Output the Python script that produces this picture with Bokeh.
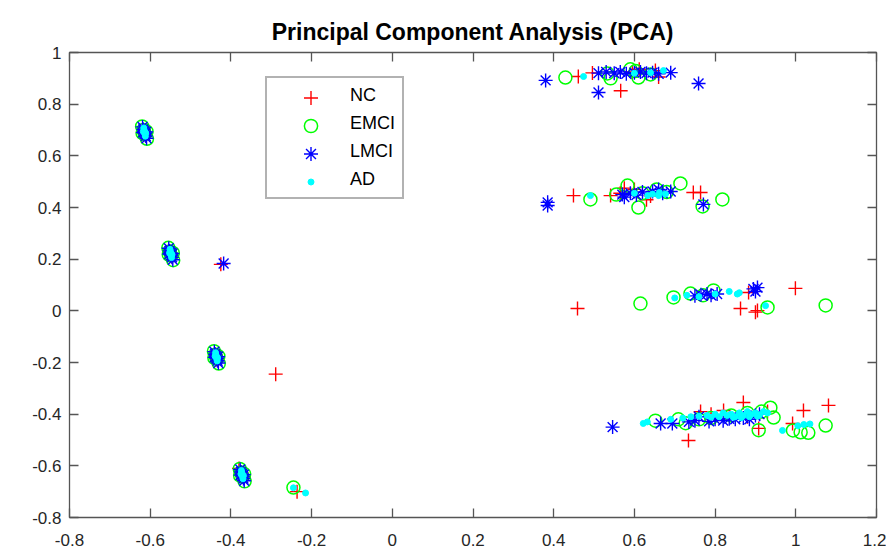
from bokeh.plotting import figure
from bokeh.models import (Range1d, FixedTicker, LinearAxis, Legend, LegendItem)
from bokeh.embed import file_html
from bokeh.resources import INLINE

# ---- PCA scores per diagnostic group (PC1, PC2) ----
nc_x = [-0.616, -0.612, -0.551, -0.547, -0.438, -0.434, -0.380, -0.374, -0.368,
        -0.425, -0.289, -0.236,
        0.461, 0.496, 0.566, 0.595, 0.612, 0.652, 0.660,
        0.449, 0.541, 0.565, 0.575, 0.600, 0.630, 0.640, 0.746, 0.764,
        0.459, 0.863, 0.883, 0.905, 0.900, 0.999,
        0.734, 0.764, 0.790, 0.821, 0.870, 0.880, 0.908, 0.930, 0.992, 1.019, 1.081]
nc_y = [0.700, 0.680, 0.230, 0.210, -0.170, -0.190, -0.610, -0.626, -0.646,
        0.180, -0.245, -0.700,
        0.907, 0.921, 0.852, 0.925, 0.935, 0.930, 0.905,
        0.446, 0.446, 0.455, 0.475, 0.470, 0.430, 0.445, 0.458, 0.458,
        0.009, 0.009, 0.071, 0.001, -0.005, 0.087,
        -0.502, -0.390, -0.400, -0.386, -0.355, -0.410, -0.455, -0.390, -0.436, -0.386, -0.366]

emci_x = [-0.620, -0.617, -0.613, -0.608, -0.619, -0.609,
          -0.555, -0.552, -0.548, -0.543, -0.554, -0.544,
          -0.442, -0.439, -0.435, -0.430, -0.441, -0.431,
          -0.378, -0.375, -0.371, -0.366, -0.377, -0.367,
          -0.245,
          0.429, 0.533, 0.541, 0.590, 0.603, 0.610, 0.640,
          0.491, 0.555, 0.583, 0.610, 0.620, 0.655, 0.680, 0.714, 0.769, 0.818,
          0.615, 0.697, 0.739, 0.770, 0.796, 0.930, 1.074,
          0.652, 0.709, 0.727, 0.760, 0.790, 0.840, 0.880, 0.915, 0.937, 0.945,
          0.908, 0.993, 1.012, 1.031, 1.074]
emci_y = [0.714, 0.700, 0.684, 0.666, 0.688, 0.694,
          0.244, 0.230, 0.214, 0.196, 0.218, 0.224,
          -0.156, -0.170, -0.186, -0.204, -0.182, -0.176,
          -0.612, -0.626, -0.642, -0.660, -0.638, -0.632,
          -0.684,
          0.903, 0.919, 0.900, 0.935, 0.928, 0.903, 0.915,
          0.431, 0.450, 0.485, 0.400, 0.455, 0.470, 0.460, 0.493, 0.404, 0.431,
          0.028, 0.052, 0.067, 0.060, 0.079, 0.013, 0.021,
          -0.425, -0.420, -0.435, -0.420, -0.415, -0.405, -0.395, -0.390, -0.375, -0.413,
          -0.462, -0.463, -0.470, -0.472, -0.444]

lmci_x = [-0.619, -0.617, -0.615, -0.613, -0.611, -0.609, -0.618, -0.610,
          -0.554, -0.552, -0.550, -0.548, -0.546, -0.544, -0.553, -0.545,
          -0.441, -0.439, -0.437, -0.435, -0.433, -0.431, -0.440, -0.432,
          -0.377, -0.375, -0.373, -0.371, -0.369, -0.367, -0.376, -0.368,
          -0.418,
          0.380, 0.511, 0.511, 0.530, 0.550, 0.565, 0.580, 0.600, 0.615, 0.630,
          0.645, 0.660, 0.690, 0.759,
          0.385, 0.385, 0.570, 0.575, 0.590, 0.605, 0.620, 0.645, 0.660, 0.670,
          0.690, 0.771,
          0.750, 0.765, 0.780, 0.790, 0.805, 0.895, 0.900, 0.905,
          0.546, 0.665, 0.694, 0.735, 0.750, 0.760, 0.785, 0.800, 0.820, 0.835,
          0.850, 0.870, 0.885, 0.900, 0.910]
lmci_y = [0.712, 0.702, 0.694, 0.686, 0.677, 0.668, 0.690, 0.692,
          0.242, 0.232, 0.224, 0.216, 0.207, 0.198, 0.220, 0.222,
          -0.158, -0.168, -0.176, -0.184, -0.193, -0.202, -0.180, -0.178,
          -0.614, -0.624, -0.632, -0.640, -0.649, -0.658, -0.636, -0.634,
          0.183,
          0.892, 0.845, 0.920, 0.925, 0.920, 0.925, 0.918, 0.922, 0.925, 0.920,
          0.922, 0.918, 0.922, 0.880,
          0.420, 0.408, 0.450, 0.440, 0.455, 0.448, 0.460, 0.462, 0.470, 0.455,
          0.462, 0.412,
          0.058, 0.062, 0.065, 0.060, 0.065, 0.085, 0.075, 0.090,
          -0.450, -0.436, -0.436, -0.430, -0.425, -0.410, -0.428, -0.420, -0.425, -0.418,
          -0.420, -0.415, -0.420, -0.405, -0.400]

ad_x = [-0.616, -0.615, -0.614, -0.613, -0.612, -0.617, -0.611,
        -0.551, -0.550, -0.549, -0.548, -0.547, -0.552, -0.546,
        -0.438, -0.437, -0.436, -0.435, -0.434, -0.439, -0.433,
        -0.374, -0.373, -0.372, -0.371, -0.370, -0.375, -0.369,
        -0.245, -0.215,
        0.474, 0.600, 0.640, 0.672,
        0.491, 0.600, 0.633, 0.645, 0.660, 0.662, 0.677,
        0.700, 0.730, 0.760, 0.800, 0.835, 0.855, 0.860, 0.925,
        0.622, 0.632, 0.690, 0.720, 0.740, 0.760, 0.780, 0.790, 0.800, 0.810,
        0.820, 0.830, 0.840, 0.850, 0.860, 0.870, 0.880, 0.890, 0.900, 0.910,
        0.920, 0.930, 0.845, 0.865, 0.885, 0.905,
        0.967, 1.005, 1.020, 1.035]
ad_y = [0.708, 0.700, 0.692, 0.684, 0.676, 0.694, 0.688,
        0.238, 0.230, 0.222, 0.214, 0.206, 0.224, 0.218,
        -0.162, -0.170, -0.178, -0.186, -0.194, -0.176, -0.182,
        -0.618, -0.626, -0.634, -0.642, -0.650, -0.632, -0.638,
        -0.685, -0.705,
        0.907, 0.920, 0.922, 0.930,
        0.446, 0.455, 0.446, 0.452, 0.446, 0.458, 0.452,
        0.050, 0.060, 0.055, 0.065, 0.075, 0.065, 0.070, 0.020,
        -0.436, -0.430, -0.420, -0.415, -0.410, -0.408, -0.405, -0.412, -0.400, -0.410,
        -0.395, -0.405, -0.400, -0.410, -0.395, -0.405, -0.390, -0.400, -0.395, -0.402,
        -0.390, -0.395, -0.412, -0.414, -0.410, -0.408,
        -0.463, -0.445, -0.440, -0.438]

x_ticks = [-0.8, -0.6, -0.4, -0.2, 0.0, 0.2, 0.4, 0.6, 0.8, 1.0, 1.2]
x_tick_labels = ["-0.8", "-0.6", "-0.4", "-0.2", "0", "0.2", "0.4", "0.6", "0.8", "1", "1.2"]
y_ticks = [-0.8, -0.6, -0.4, -0.2, 0.0, 0.2, 0.4, 0.6, 0.8, 1.0]
y_tick_labels = ["-0.8", "-0.6", "-0.4", "-0.2", "0", "0.2", "0.4", "0.6", "0.8", "1"]

FONT = "Liberation Sans"
FRAME = "#555555"

p = figure(width=886, height=556, output_backend="svg", toolbar_location=None,
           x_range=Range1d(-0.8, 1.2), y_range=Range1d(-0.8, 1.0),
           min_border_left=69, min_border_right=10, min_border_top=52, min_border_bottom=39,
           x_axis_type=None, y_axis_type=None)
p.background_fill_color = "white"
p.border_fill_color = "white"
p.outline_line_color = FRAME
p.outline_line_width = 1.3
p.xgrid.visible = False
p.ygrid.visible = False

p.title.text = "Principal Component Analysis (PCA)"
p.title.text_font = FONT
p.title.text_font_size = "23px"
p.title.text_font_style = "bold"
p.title.text_color = "black"
p.title.align = "center"
p.title.standoff = 15


def make_axis(ticks, labels, show_labels):
    ax = LinearAxis(ticker=FixedTicker(ticks=ticks))
    ax.major_label_overrides = dict(zip(ticks, labels))
    ax.axis_line_color = None
    ax.major_tick_line_color = FRAME
    ax.major_tick_line_width = 1.3
    ax.major_tick_in = 9
    ax.major_tick_out = 0
    ax.minor_tick_line_color = None
    ax.major_label_text_font = FONT
    if show_labels:
        ax.major_label_text_font_size = "17px"
        ax.major_label_text_color = "#262626"
    else:
        # tick marks only on the top and right edges of the box
        ax.major_label_text_font_size = "1px"
        ax.major_label_text_color = None
        ax.major_label_standoff = 0
    return ax


xb = make_axis(x_ticks, x_tick_labels, True)
xb.major_label_standoff = 16
yl = make_axis(y_ticks, y_tick_labels, True)
yl.major_label_standoff = 8
p.add_layout(xb, "below")
p.add_layout(yl, "left")
p.add_layout(make_axis(x_ticks, x_tick_labels, False), "above")
p.add_layout(make_axis(y_ticks, y_tick_labels, False), "right")

r_nc = p.scatter(nc_x, nc_y, marker="cross", size=14, line_color="#ff0000", line_width=1.4)
r_emci = p.scatter(emci_x, emci_y, marker="circle", size=13, fill_color=None,
                   line_color="#00ff00", line_width=1.5)
r_lmci = p.scatter(lmci_x, lmci_y, marker="asterisk", size=14, line_color="#0000ff", line_width=1.4)
r_ad = p.scatter(ad_x, ad_y, marker="circle", size=6, fill_color="#00ffff", line_color="#00ffff")

# framed legend carries the labels; its own glyph slots stay empty
blank = p.scatter([], [], marker="circle", size=6, fill_alpha=0, line_alpha=0)
legend = Legend(items=[LegendItem(label=name, renderers=[blank])
                       for name in ["NC", "EMCI", "LMCI", "AD"]],
                location=(196, 318), orientation="vertical",
                glyph_width=70, glyph_height=21, label_height=21, spacing=7,
                padding=7, margin=0, label_standoff=6,
                label_text_font=FONT, label_text_font_size="18px", label_text_color="black",
                border_line_color="#666666", border_line_width=2,
                background_fill_color="white", background_fill_alpha=1.0)
p.add_layout(legend)


def key(renderer, box, x_loc, y_loc):
    # a frameless one-entry legend that only draws the marker swatch
    return Legend(items=[LegendItem(label=" ", renderers=[renderer])],
                  location=(x_loc, y_loc), orientation="vertical",
                  glyph_width=box, glyph_height=box, label_height=box,
                  padding=0, margin=0, label_standoff=0,
                  label_text_font_size="1px", label_text_color=None,
                  border_line_color=None, background_fill_color=None,
                  background_fill_alpha=0)


p.add_layout(key(r_nc, 35, 224, 402))
p.add_layout(key(r_emci, 33, 225, 375))
p.add_layout(key(r_lmci, 35, 224, 346))
p.add_layout(key(r_ad, 15, 234, 328))

open("out.html", "w").write(file_html(p, INLINE))
